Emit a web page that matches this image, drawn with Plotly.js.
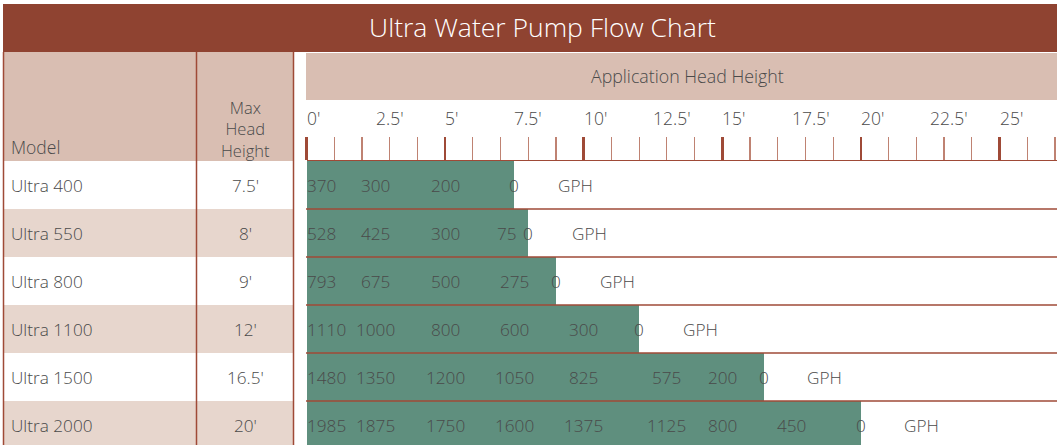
<!DOCTYPE html>
<html>
<head>
<meta charset="utf-8">
<script src="https://cdn.plot.ly/plotly-3.0.1.min.js"></script>
<style>html,body{margin:0;padding:0;background:#fff;}#chart{width:1057px;height:445px;}</style>
</head>
<body>
<div id="chart"></div>
<script>
// ---- data ----
const titleText = 'Ultra Water Pump Flow Chart';
const models = ['Ultra 400', 'Ultra 550', 'Ultra 800', 'Ultra 1100', 'Ultra 1500', 'Ultra 2000'];
const maxHead = [7.5, 8, 9, 12, 16.5, 20];
const flowHeads = [
  [0, 2.5, 5, 7.5],
  [0, 2.5, 5, 7.25, 8],
  [0, 2.5, 5, 7.5, 9],
  [0, 2.5, 5, 7.5, 10, 12],
  [0, 2.5, 5, 7.5, 10, 13, 15, 16.5],
  [0, 2.5, 5, 7.5, 10, 13, 15, 17.5, 20]
];
const flowGph = [
  [370, 300, 200, 0],
  [528, 425, 300, 75, 0],
  [793, 675, 500, 275, 0],
  [1110, 1000, 800, 600, 300, 0],
  [1480, 1350, 1200, 1050, 825, 575, 200, 0],
  [1985, 1875, 1750, 1600, 1375, 1125, 800, 450, 0]
];
const tickVals = [0, 2.5, 5, 7.5, 10, 12.5, 15, 17.5, 20, 22.5, 25];
const tickLabels = ["0'", "2.5'", "5'", "7.5'", "10'", "12.5'", "15'", "17.5'", "20'", "22.5'", "25'"];
const unitLabel = 'GPH';
const axisHeader = 'Application Head Height';
const colHeaderModel = 'Model';
const colHeaderMax = 'Max<br>Head<br>Height';

// ---- layout constants ----
const W = 1057, H = 445;
const px = x => x / W;
const py = y => 1 - y / H;
const FONT = "'Open Sans', Roboto, 'Liberation Sans', Arial, sans-serif";
const TXT = '#4a4a4a';
const RED = '#9f4a37';
const RED_LIGHT = '#bf8272';
const PINK = '#d9beb2';
const PINK_ROW = '#e7d6cd';
const GREEN = '#5f8f7e';
const TITLE_BG = '#8f4331';
const plotTop = 161, rowH = 48, x0px = 306.5, ftPx = 27.72;

const rows = models.map((_, i) => i);

const traces = [{
  type: 'bar', orientation: 'h',
  x: maxHead, y: rows, base: 0, width: 1,
  marker: {color: GREEN, line: {width: 0}},
  hoverinfo: 'skip', showlegend: false
}];

const shapes = [];
shapes.push({type: 'rect', xref: 'paper', yref: 'paper', x0: px(3), x1: 1, y0: py(52), y1: py(4),
  fillcolor: TITLE_BG, line: {width: 0}, layer: 'below'});
shapes.push({type: 'rect', xref: 'paper', yref: 'paper', x0: px(3), x1: px(293.5), y0: py(161), y1: py(52),
  fillcolor: PINK, line: {width: 0}, layer: 'below'});
shapes.push({type: 'rect', xref: 'paper', yref: 'paper', x0: px(306), x1: 1, y0: py(100), y1: py(53),
  fillcolor: PINK, line: {width: 0}, layer: 'below'});
rows.forEach(i => {
  if (i % 2 === 1) {
    shapes.push({type: 'rect', xref: 'paper', yref: 'y', x0: px(3), x1: px(293.5), y0: i - 0.5, y1: i + 0.5,
      fillcolor: PINK_ROW, line: {width: 0}, layer: 'below'});
  }
});
[3.5, 196.5, 293.5].forEach(x => {
  shapes.push({type: 'line', xref: 'paper', yref: 'paper', x0: px(x), x1: px(x), y0: 0, y1: py(52),
    line: {color: RED, width: 1.5}, layer: 'above'});
});
rows.forEach(i => {
  shapes.push({type: 'line', xref: 'paper', yref: 'y', x0: px(306), x1: 1, y0: i + 0.5, y1: i + 0.5,
    line: {color: RED, width: 1.5}, layer: 'above'});
});

const annotations = [];
const af = (size, color) => ({family: FONT, size: size, color: color || TXT, weight: 300});
annotations.push({xref: 'paper', yref: 'paper', x: px(687), y: py(76), text: axisHeader, showarrow: false,
  xanchor: 'center', yanchor: 'middle', font: af(17.8)});
annotations.push({xref: 'paper', yref: 'paper', x: px(9), y: py(147), text: colHeaderModel, showarrow: false,
  xanchor: 'left', yanchor: 'middle', font: af(17.5)});
annotations.push({xref: 'paper', yref: 'paper', x: px(245), y: py(129), text: colHeaderMax, showarrow: false,
  xanchor: 'center', yanchor: 'middle', align: 'center', font: af(16.5)});
tickVals.forEach((v, k) => {
  annotations.push({xref: 'x', yref: 'paper', x: v, y: py(118), text: tickLabels[k], showarrow: false,
    xanchor: 'left', yanchor: 'middle', xshift: -2, font: af(17.5)});
});
rows.forEach(i => {
  annotations.push({xref: 'paper', yref: 'y', x: px(9), y: i, text: models[i], showarrow: false,
    xanchor: 'left', yanchor: 'middle', font: af(17.2)});
  annotations.push({xref: 'paper', yref: 'y', x: px(245.5), y: i, text: maxHead[i] + "'", showarrow: false,
    xanchor: 'center', yanchor: 'middle', font: af(17.2)});
  flowHeads[i].forEach((h, j) => {
    annotations.push({xref: 'x', yref: 'y', x: h, y: i, text: String(flowGph[i][j]), showarrow: false,
      xanchor: j === 0 ? 'left' : 'center', xshift: j === 0 ? -2 : 0, yanchor: 'middle', font: af(17.2)});
  });
  annotations.push({xref: 'x', yref: 'y', x: maxHead[i] + 1.5, y: i, text: unitLabel, showarrow: false,
    xanchor: 'left', yanchor: 'middle', font: af(17.2)});
});

const layout = {
  width: W, height: H,
  margin: {l: 0, r: 0, t: 0, b: 0, pad: 0},
  paper_bgcolor: '#ffffff', plot_bgcolor: 'rgba(0,0,0,0)',
  showlegend: false,
  title: {text: titleText, xref: 'paper', yref: 'paper', x: px(542.5), y: py(28), xanchor: 'center', yanchor: 'middle',
    font: {family: FONT, size: 26.5, color: '#ffffff', weight: 300}},
  bargap: 0,
  xaxis: {
    domain: [px(x0px), 1], range: [0, (W - x0px) / ftPx], autorange: false,
    side: 'top', showline: true, linecolor: RED, linewidth: 1.5,
    ticks: 'outside', ticklen: 23, tickwidth: 2.5, tickcolor: RED, tick0: 0, dtick: 5,
    minor: {tick0: 0, dtick: 1, ticks: 'outside', ticklen: 23, tickwidth: 1.2, tickcolor: RED_LIGHT, showgrid: false},
    showticklabels: false, showgrid: false, zeroline: false, fixedrange: true
  },
  yaxis: {
    domain: [0, (H - plotTop) / H], range: [(H - plotTop) / rowH - 0.5, -0.5], autorange: false,
    showticklabels: false, showgrid: false, zeroline: false, showline: false, ticks: '', fixedrange: true
  },
  shapes: shapes,
  annotations: annotations
};

Plotly.newPlot('chart', traces, layout, {displayModeBar: false, staticPlot: true});
</script>
</body>
</html>
